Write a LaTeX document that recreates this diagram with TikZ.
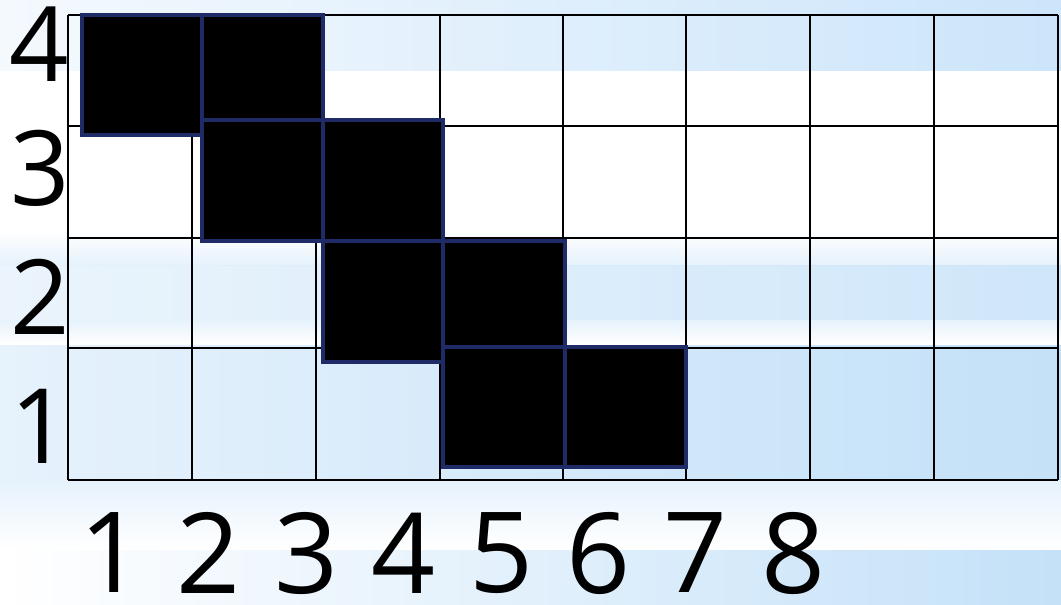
\documentclass[tikz,border=0pt]{standalone}
\usepackage{fontspec}
\setmainfont{Open Sans}
\definecolor{navy}{HTML}{1F2B66}
\definecolor{bgA}{HTML}{F4F9FE}
\definecolor{bgB}{HTML}{CCE5FA}
\definecolor{bgC}{HTML}{C4E1F8}
\definecolor{bgD}{HTML}{E6F2FC}
\begin{document}
\begin{tikzpicture}[x=1pt,y=-1pt,
  gridline/.style={line width=2.8pt,black},
  cell/.style={fill=black,draw=navy,line width=3.2pt},
  ylab/.style={font=\fontsize{104}{104}\selectfont,inner sep=0pt},
  xlab/.style={font=\fontsize{112}{112}\selectfont,inner sep=0pt}]
% background
\fill[white] (0,0) rectangle (1061,605);
\shade[left color=bgA,right color=bgB] (0,0) rectangle (1061,70);
\shade[top color=white,bottom color=bgD] (0,230) rectangle (1061,265);
\shade[left color=bgD,right color=bgC,opacity=0.8] (0,265) rectangle (1061,320);
\shade[top color=bgD,bottom color=white] (0,320) rectangle (1061,345);
\shade[left color=bgD,right color=bgC] (0,345) rectangle (1061,480);
\shade[top color=bgD,bottom color=white] (0,480) rectangle (1061,550);
\shade[left color=white,right color=bgC] (0,550) rectangle (1061,605);
% grid
\foreach \x in {68,192,316,440,563,686,810,934,1058}
  \draw[gridline] (\x,15) -- (\x,480);
\foreach \y in {15,126,238,348,480}
  \draw[gridline] (68,\y) -- (1058,\y);
% black cells
\draw[cell] (82,15) rectangle (202,135);
\draw[cell] (202,15) rectangle (323,120);
\draw[cell] (202,120) rectangle (323,241);
\draw[cell] (323,120) rectangle (443,241);
\draw[cell] (323,241) rectangle (443,362);
\draw[cell] (443,241) rectangle (565,347);
\draw[cell] (443,347) rectangle (565,467);
\draw[cell] (565,347) rectangle (686,467);
% labels
\node[ylab] (y4) at (39,44) {4};
\node[ylab] (y3) at (40,168) {3};
\node[ylab] (y2) at (40,297) {2};
\node[ylab] (y1) at (40,426) {1};
\foreach \i/\x in {1/112,2/209,3/307,4/404,5/502,6/599,7/696,8/794}
  \node[xlab] (x\i) at (\x,553) {\i};
\end{tikzpicture}
\end{document}
